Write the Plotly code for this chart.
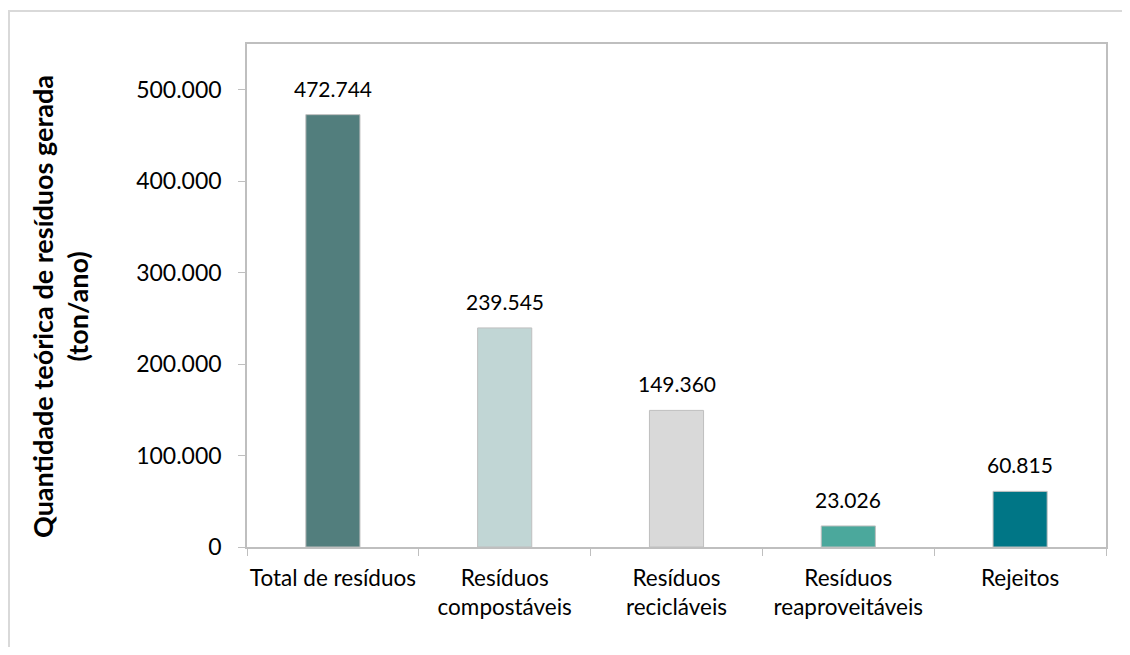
import plotly.graph_objects as go

categories = ["Total de resíduos", "Resíduos<br>compostáveis", "Resíduos<br>recicláveis",
              "Resíduos<br>reaproveitáveis", "Rejeitos"]
values = [472744, 239545, 149360, 23026, 60815]
bar_colors = ["#527E7D", "#C1D6D5", "#D9D9D9", "#4BA89C", "#007686"]
y_title = "Quantidade teórica de resíduos gerada<br>(ton/ano)"

# page has an 8px body margin: figure origin sits at page (8, 8)
OFF = 8
W, H = 1114, 639
ML, MT = 247 - OFF, 44 - OFF
PLOT_R, PLOT_B = 1106 - OFF, 547 - OFF
MR, MB = W - PLOT_R, H - PLOT_B
PW, PH = PLOT_R - ML, PLOT_B - MT

def px_x(p):
    return (p - OFF - ML) / PW

def px_y(p):
    return (PLOT_B - (p - OFF)) / PH

FONT = "Lato"

fig = go.Figure()
fig.add_trace(go.Bar(
    x=categories, y=values,
    marker=dict(color=bar_colors, line=dict(color="#BFBFBF", width=1)),
    width=0.315,
))

for c, v in zip(categories, values):
    fig.add_annotation(x=c, y=v, text=f"{v:,}".replace(",", "."), showarrow=False,
                       yanchor="bottom", yshift=12,
                       font=dict(family=FONT, size=21, color="#000"))

fig.add_annotation(xref="paper", yref="paper", x=px_x(60), y=px_y(307),
                   xanchor="center", yanchor="middle",
                   text="<b>" + y_title + "</b>", textangle=-90, showarrow=False,
                   font=dict(family=FONT, size=27, color="#000"), align="center")

# outer chart frame
fig.add_shape(type="line", xref="paper", yref="paper", x0=px_x(8), x1=px_x(1200),
              y0=px_y(11), y1=px_y(11), line=dict(color="#D9D9D9", width=2))
fig.add_shape(type="line", xref="paper", yref="paper", x0=px_x(9), x1=px_x(9),
              y0=px_y(11), y1=px_y(700), line=dict(color="#D9D9D9", width=2))

fig.update_layout(
    width=W, height=H,
    margin=dict(l=ML, r=MR, t=MT, b=MB, autoexpand=False),
    paper_bgcolor="white", plot_bgcolor="white",
    separators=",.",
    showlegend=False,
    font=dict(family=FONT, size=22, color="#000"),
    xaxis=dict(showline=True, linecolor="#BFBFBF", linewidth=1.5, mirror=True,
               ticks="outside", tickson="boundaries", ticklen=7, tickcolor="#BFBFBF",
               tickangle=0, ticklabelstandoff=10,
               tickfont=dict(family=FONT, size=22.5, color="#000"), showgrid=False,
               automargin=False),
    yaxis=dict(range=[0, 550000], dtick=100000, tickformat=",",
               showline=True, linecolor="#BFBFBF", linewidth=1.5, mirror=True,
               ticks="outside", ticklen=7, tickcolor="#BFBFBF",
               tickfont=dict(family=FONT, size=23, color="#000"), showgrid=False,
               zeroline=False, ticklabelstandoff=12, automargin=False),
)

fig.write_html("out.html")
